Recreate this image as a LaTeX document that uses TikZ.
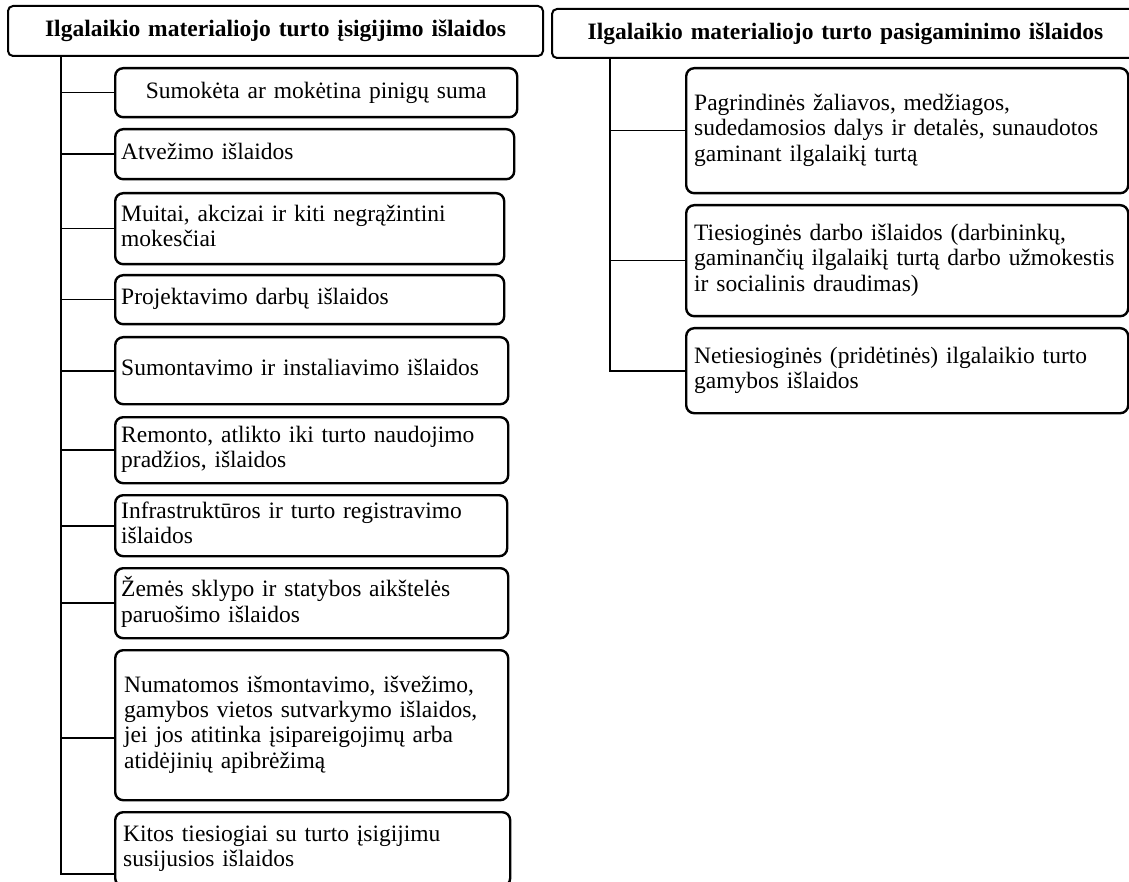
\documentclass[tikz,border=0pt]{standalone}
\usepackage{fontspec}
\setmainfont{Liberation Serif}
\newcommand{\fs}{\fontsize{23.5}{25.3}\selectfont}
\newcommand{\lns}[1]{\begin{tabular}{@{}l@{}}#1\end{tabular}}
\tikzset{
  itembox/.style={draw, line width=2.4pt, rounded corners=8pt, inner xsep=6pt, inner ysep=0pt,
    align=left, font=\fs, anchor=north west},
  headbox/.style={draw, line width=2pt, rounded corners=5pt, inner sep=0pt,
    align=center, font=\fs\bfseries, anchor=north west},
  conn/.style={line width=1.6pt}
}
\begin{document}
\begin{tikzpicture}[x=1pt,y=1pt]
\useasboundingbox (0,0) rectangle (1129,-882);
\clip (0,0) rectangle (1129,-882);
\fill[white] (0,0) rectangle (1129,-882);
% headers
\node[headbox, minimum width=535pt, minimum height=50pt, text width=520pt] (h1) at (7,-5)
  {Ilgalaikio materialiojo turto įsigijimo išlaidos};
\node[headbox, minimum width=587pt, minimum height=49pt, text width=570pt] (h2) at (551,-8)
  {Ilgalaikio materialiojo turto pasigaminimo išlaidos};
% left column
\node[itembox, align=center, minimum width=402pt, minimum height=49pt, text width=390pt] (l1) at (114,-67)
  {Sumokėta ar mokėtina pinigų suma};
\node[itembox, minimum width=399pt, minimum height=50pt, text width=387pt] (l2) at (114,-128)
  {\lns{Atvežimo išlaidos}};
\node[itembox, minimum width=389pt, minimum height=71pt, text width=377pt] (l3) at (114,-192)
  {\lns{Muitai, akcizai ir kiti negrąžintini\\mokesčiai}};
\node[itembox, minimum width=389pt, minimum height=49pt, text width=377pt] (l4) at (114,-274)
  {\lns{Projektavimo darbų išlaidos}};
\node[itembox, minimum width=393pt, minimum height=67pt, text width=381pt] (l5) at (114,-336)
  {\lns{Sumontavimo ir instaliavimo išlaidos}};
\node[itembox, minimum width=393pt, minimum height=66pt, text width=381pt] (l6) at (114,-416)
  {\lns{Remonto, atlikto iki turto naudojimo\\pradžios, išlaidos}};
\node[itembox, minimum width=392pt, minimum height=61pt, text width=380pt] (l7) at (114,-494)
  {\lns{Infrastruktūros ir turto registravimo\\išlaidos}};
\node[itembox, minimum width=393pt, minimum height=70pt, text width=381pt] (l8) at (114,-567)
  {\lns{Žemės sklypo ir statybos aikštelės\\paruošimo išlaidos}};
\node[itembox, inner xsep=9pt, minimum width=393pt, minimum height=150pt, text width=375pt] (l9) at (114,-649)
  {\lns{Numatomos išmontavimo, išvežimo,\\gamybos vietos sutvarkymo išlaidos,\\jei jos atitinka įsipareigojimų arba\\atidėjinių apibrėžimą}};
\node[itembox, inner xsep=8pt, minimum width=395pt, minimum height=74pt, text width=379pt] (l10) at (114,-811)
  {\lns{Kitos tiesiogiai su turto įsigijimu\\susijusios išlaidos}};
% right column
\node[itembox, inner xsep=8pt, minimum width=442pt, minimum height=125pt, text width=426pt] (r1) at (685,-67)
  {\lns{Pagrindinės žaliavos, medžiagos,\\sudedamosios dalys ir detalės, sunaudotos\\gaminant ilgalaikį turtą}};
\node[itembox, inner xsep=8pt, minimum width=442pt, minimum height=111pt, text width=426pt] (r2) at (685,-204)
  {\lns{Tiesioginės darbo išlaidos (darbininkų,\\gaminančių ilgalaikį turtą darbo užmokestis\\ir socialinis draudimas)}};
\node[itembox, inner xsep=8pt, minimum width=442pt, minimum height=85pt, text width=426pt] (r3) at (685,-327)
  {\lns{Netiesioginės (pridėtinės) ilgalaikio turto\\gamybos išlaidos}};
% connectors
\coordinate (lt) at ([xshift=54pt]h1.south west);
\coordinate (rt) at ([xshift=59pt]h2.south west);
\coordinate (l9c) at ([yshift=-13pt]l9.west);
\coordinate (l10c) at ([yshift=-25pt]l10.west);
\draw[conn] (lt) |- (l10c);
\foreach \n in {l1,l2,l3,l4,l5,l6,l7,l8,l9c}{\draw[conn] (lt |- \n) -- (\n);}
\draw[conn] (rt) |- (r3.west);
\foreach \n in {r1,r2}{\draw[conn] (rt |- \n.west) -- (\n.west);}
\end{tikzpicture}
\end{document}
